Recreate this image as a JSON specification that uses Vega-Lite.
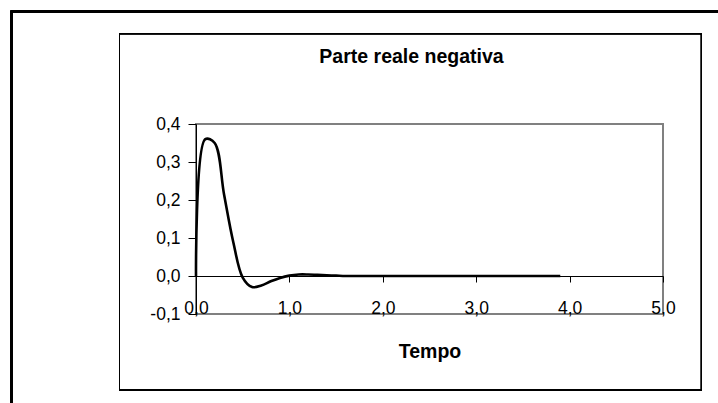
{
  "$schema": "https://vega.github.io/schema/vega-lite/v6.json",
  "width": 467,
  "height": 190,
  "autosize": "none",
  "padding": {"left": 196, "top": 124, "right": 55, "bottom": 89},
  "background": "white",
  "config": {
    "view": {"stroke": "#808080", "strokeWidth": 2},
    "font": "Liberation Sans",
    "locale": {"number": {"decimal": ",", "thousands": ".", "grouping": [3], "currency": ["", " €"], "minus": "-"}},
    "axis": {"labelOverlap": false, "labelFlush": false, "grid": false, "labelSeparation": 0}
  },
  "title": {
    "text": "Parte reale negativa",
    "font": "Liberation Sans",
    "fontSize": 19.5,
    "fontWeight": "bold",
    "color": "black",
    "anchor": "middle",
    "frame": "group",
    "dx": -18,
    "offset": -57
  },
  "data": {
    "values": [
      {"t": 0.0, "v": 0.0},
      {"t": 0.1, "v": 0.36},
      {"t": 0.2, "v": 0.35},
      {"t": 0.3, "v": 0.215},
      {"t": 0.4, "v": 0.088},
      {"t": 0.5, "v": -0.004},
      {"t": 0.6, "v": -0.029},
      {"t": 0.7, "v": -0.025},
      {"t": 0.8, "v": -0.014},
      {"t": 0.9, "v": -0.005},
      {"t": 1.0, "v": 0.001},
      {"t": 1.1, "v": 0.004},
      {"t": 1.2, "v": 0.004},
      {"t": 1.3, "v": 0.003},
      {"t": 1.4, "v": 0.002},
      {"t": 1.5, "v": 0.001},
      {"t": 1.6, "v": 0.0},
      {"t": 1.7, "v": 0.0},
      {"t": 1.8, "v": 0.0},
      {"t": 1.9, "v": 0.0},
      {"t": 2.0, "v": 0.0},
      {"t": 2.1, "v": 0.0},
      {"t": 2.2, "v": 0.0},
      {"t": 2.3, "v": 0.0},
      {"t": 2.4, "v": 0.0},
      {"t": 2.5, "v": 0.0},
      {"t": 2.6, "v": 0.0},
      {"t": 2.7, "v": 0.0},
      {"t": 2.8, "v": 0.0},
      {"t": 2.9, "v": 0.0},
      {"t": 3.0, "v": 0.0},
      {"t": 3.1, "v": 0.0},
      {"t": 3.2, "v": 0.0},
      {"t": 3.3, "v": 0.0},
      {"t": 3.4, "v": 0.0},
      {"t": 3.5, "v": 0.0},
      {"t": 3.6, "v": 0.0},
      {"t": 3.7, "v": 0.0},
      {"t": 3.8, "v": 0.0},
      {"t": 3.9, "v": 0.0}
    ]
  },
  "layer": [
    {
      "mark": {"type": "rect", "fill": null, "fillOpacity": 0, "stroke": "black", "strokeWidth": 2, "clip": false},
      "encoding": {
        "x": {"datum": -1.972, "type": "quantitative"},
        "x2": {"datum": 6.3},
        "y": {"datum": 0.6953, "type": "quantitative"},
        "y2": {"datum": -0.45}
      }
    },
    {
      "mark": {"type": "rect", "fill": null, "fillOpacity": 0, "stroke": "black", "strokeWidth": 1, "clip": false},
      "encoding": {
        "x": {"datum": -0.819, "type": "quantitative"},
        "x2": {"datum": 5.412},
        "y": {"datum": 0.638, "type": "quantitative"},
        "y2": {"datum": -0.301}
      }
    },
    {
      "mark": {"type": "line", "color": "black", "strokeWidth": 2.6, "interpolate": "catmull-rom"},
      "encoding": {
        "x": {"field": "t", "type": "quantitative",
          "scale": {"domain": [0, 5], "nice": false, "zero": false},
          "axis": {"orient": "bottom", "offset": -38, "values": [0, 1, 2, 3, 4, 5], "format": ".1f",
            "domainColor": "black", "domainWidth": 1, "ticks": true, "tickColor": "black", "tickSize": 6,
            "labelFont": "Liberation Sans", "labelFontSize": 17.5, "labelColor": "black",
            "labelBaseline": "alphabetic", "labelPadding": 31, "labelOverlap": false,
            "title": "Tempo", "titleFont": "Liberation Sans", "titleFontSize": 19.5, "titleFontWeight": "bold", "titleColor": "black",
            "titleBaseline": "alphabetic", "titlePadding": 41}},
        "y": {"field": "v", "type": "quantitative",
          "scale": {"domain": [-0.1, 0.4], "nice": false, "zero": false},
          "axis": {"orient": "left", "tickCount": 6, "format": ".1f",
            "domainColor": "black", "domainWidth": 1, "tickColor": "black", "tickSize": 8,
            "labelFont": "Liberation Sans", "labelFontSize": 17.5, "labelColor": "black", "labelPadding": 8,
            "labelOverlap": false, "labelSeparation": 0, "labelBound": false,
            "title": null}}
      }
    }
  ]
}
